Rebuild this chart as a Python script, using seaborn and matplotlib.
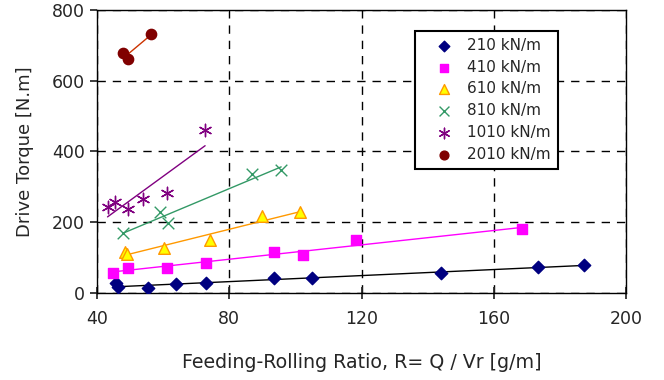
import matplotlib.pyplot as plt
import numpy as np
import pandas as pd
import seaborn as sns

sns.set_theme(style="ticks")
plt.rcParams['font.family'] = ['DejaVu Sans']

# Feeding-rolling ratio (x) and drive torque (y) for each roll force
x_210 = [45.7, 46.3, 55.3, 63.8, 72.9, 93.6, 104.9, 144.0, 173.4, 187.3]
y_210 = [27, 16, 15, 25, 27, 41, 41, 56, 74, 79]
x_410 = [44.9, 49.5, 61.3, 72.9, 93.6, 102.2, 118.2, 168.5]
y_410 = [57, 71, 71, 84, 115, 107, 150, 180]
x_610 = [48.5, 49.2, 60.4, 74.2, 90.0, 101.4]
y_610 = [117, 110, 126, 150, 218, 228]
x_810 = [48.0, 59.1, 61.4, 86.8, 95.7]
y_810 = [170, 230, 199, 336, 347]
x_1010 = [43.2, 45.4, 49.5, 54.0, 61.1, 72.7]
y_1010 = [244, 256, 236, 266, 283, 460]
x_2010 = [48.0, 49.5, 56.3]
y_2010 = [677, 660, 732]

labels = ['210 kN/m', '410 kN/m', '610 kN/m', '810 kN/m', '1010 kN/m', '2010 kN/m']
xs = [x_210, x_410, x_610, x_810, x_1010, x_2010]
ys = [y_210, y_410, y_610, y_810, y_1010, y_2010]

# marker, face colour, edge colour, trendline colour, size
styles = [
    ('D', '#000080', '#000080', 'black', 40),
    ('s', '#FF00FF', '#FF00FF', '#FF00FF', 50),
    ('^', '#FFFF00', '#FF9900', '#FF9900', 70),
    ('x', '#339966', '#339966', '#339966', 70),
    ((6, 2, 0), '#800080', '#800080', '#800080', 80),
    ('o', '#800000', '#800000', '#CC3300', 55),
]

fig = plt.figure(figsize=(6.64, 3.8), dpi=100)
ax = fig.add_axes([0.146, 0.229, 0.797, 0.745])

for i, (lab, xv, yv) in enumerate(zip(labels, xs, ys)):
    mk, fc, ec, lc, sz = styles[i]
    df = pd.DataFrame({'x': xv, 'y': yv})
    sns.regplot(data=df, x='x', y='y', ax=ax, scatter=False, ci=None,
                truncate=True, color=lc, line_kws={'lw': 1}, label='_nolegend_')
    if mk in ('x', (6, 2, 0)):
        sns.scatterplot(data=df, x='x', y='y', ax=ax, marker=mk, color=fc,
                        s=sz, linewidth=1, label=lab, zorder=3)
    else:
        sns.scatterplot(data=df, x='x', y='y', ax=ax, marker=mk, color=fc,
                        edgecolor=ec, s=sz, linewidth=1, label=lab, zorder=3)

ax.set_xlim(40, 200)
ax.set_ylim(0, 800)
ax.set_xticks([40, 80, 120, 160, 200])
ax.set_yticks([0, 200, 400, 600, 800])
ax.grid(True, color='black', linestyle=(0, (6, 5)), linewidth=1)
ax.tick_params(axis='x', direction='inout', length=8, labelsize=12.5, pad=8)
ax.tick_params(axis='y', direction='out', length=5, labelsize=12.5)
for sp in ax.spines.values():
    sp.set_color('black')
    sp.set_linewidth(1)

ax.set_xlabel('Feeding-Rolling Ratio, R= Q / Vr [g/m]', fontsize=13.7, labelpad=18)
ax.set_ylabel('Drive Torque [N.m]', fontsize=13, labelpad=13)

leg = ax.legend(loc='upper right', bbox_to_anchor=(0.871, 0.926), borderaxespad=0,
                frameon=True, fancybox=False, fontsize=11, handletextpad=0.1,
                labelspacing=0.45, borderpad=0.45, handlelength=2.9,
                markerscale=0.85)
leg.get_frame().set_edgecolor('black')
leg.get_frame().set_linewidth(1.5)
leg.get_frame().set_alpha(1)

fig.savefig('out.png', dpi=100)
